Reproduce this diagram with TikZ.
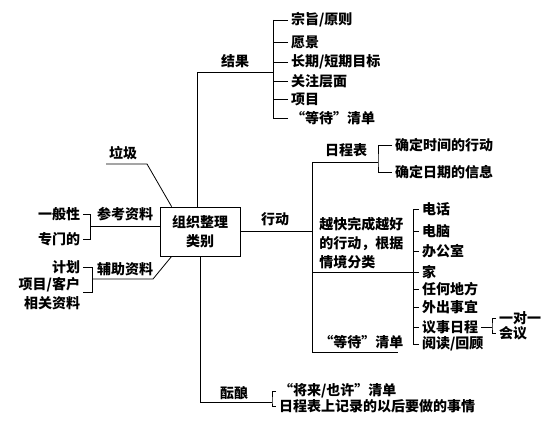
\documentclass[tikz,border=0pt]{standalone}
\usepackage{fontspec}
\setmainfont{Noto Sans CJK SC}
\usepackage{tikz}

\begin{document}
\begin{tikzpicture}[x=1pt,y=-1pt,line width=0.8pt,
  every node/.style={font=\fontsize{14}{19}\selectfont\bfseries},
  txt/.style={inner sep=1pt},
  item/.style={anchor=west,inner sep=1pt,outer sep=2pt},
  litem/.style={anchor=east,inner sep=1pt,outer sep=2pt}]
  \useasboundingbox (0,0) rectangle (556,433);

  \node[draw,align=center,minimum width=80pt,minimum height=49pt] (core) at (200,231.5) {组织整理\\类别};

  % 结果
  \node[txt] (jg) at (235,61) {结果};
  \coordinate (jgbar) at (273,72);
  \draw ([xshift=-3pt]core.north) |- (jgbar);
  \foreach \y/\lab [count=\i] in {20/{宗旨/原则},42/愿景,62/{长期/短期目标},81/关注层面,99/项目,118/“等待”清单}
    \node[item] (jg\i) at (288,\y) {\lab};
  \draw (jg1.west -| jgbar) -- (jg6.west -| jgbar);
  \foreach \i in {1,...,6}
    \draw (jg\i.west) -- (jg\i.west -| jgbar);

  % 垃圾
  \node[txt] (lj) at (123,153) {垃圾};
  \coordinate (ljend) at (106,164);
  \coordinate (ljknee) at (147,164);
  \draw (ljend) -- (ljknee) -- ([xshift=12pt]core.north west);

  % 参考资料
  \node[txt] (ck) at (125,214) {参考资料};
  \coordinate (ckbar) at (90,226);
  \draw (ckbar) -- (ckbar -| core.west);
  \node[litem] (ck1) at (83,214) {一般性};
  \node[litem] (ck2) at (83,239) {专门的};
  \draw (ck1.east) -| (ck2.east -| ckbar) -- (ck2.east);

  % 辅助资料
  \node[txt] (fz) at (125,269) {辅助资料};
  \coordinate (fzbar) at (92,279);
  \coordinate (fzknee) at (153,279);
  \draw (fzbar) -- (fzknee) -- ([xshift=12pt]core.south west);
  \node[litem] (fz1) at (83,267) {计划};
  \node[litem] (fz2) at (83,285) {项目/客户};
  \node[litem] (fz3) at (83,303) {相关资料};
  \coordinate (fzbot) at (83,292);
  \draw (fz1.east) -| (fzbot -| fzbar) -- (fzbot);

  % 行动
  \node[txt] (xd) at (275,219) {行动};
  \coordinate (xdtop) at (312,162);
  \coordinate (xdbot) at (312,352);
  \draw (core.east) -- (core.east -| xdtop);
  \draw (xdtop) -- (xdbot);

  \node[txt] (rcb) at (346,150) {日程表};
  \coordinate (rcbar) at (378,162);
  \draw (xdtop) -- (rcbar);
  \node[item] (rc1) at (392,145) {确定时间的行动};
  \node[item] (rc2) at (392,172) {确定日期的信息};
  \draw (rc1.west) -| (rcbar) |- (rc2.west);

  \node[txt,anchor=west,align=left] (yk) at (318,243) {越快完成越好\\的行动，根据\\情境分类};
  \foreach \y/\lab [count=\i] in {209/电话,231/电脑,251/办公室,272/家,289/任何地方,307/外出事宜,327/议事日程,344/{阅读/回顾}}
    \node[item] (qj\i) at (419,\y) {\lab};
  \coordinate (qjbar) at (413,272);
  \draw (qj1.west -| qjbar) -- (qj8.west -| qjbar);
  \foreach \i in {1,...,8}
    \draw (qj\i.west) -- (qj\i.west -| qjbar);
  \draw (xdtop |- qjbar) -- (qjbar);

  \node[txt,anchor=west] (dd) at (318,342) {“等待”清单};
  \coordinate (ddend) at (398,352);
  \draw (xdbot) -- (ddend);

  \coordinate (ysbar) at (492,327);
  \node[item] (ys1) at (496,318) {一对一};
  \node[item] (ys2) at (496,333) {会议};
  \draw (qj7.east) -- (qj7.east -| ysbar);
  \draw (ys1.west) -| (ysbar) |- (ys2.west);

  % 酝酿
  \node[txt] (yn) at (234,393) {酝酿};
  \coordinate (ynbar) at (272,402);
  \draw (core.south) |- (ynbar);
  \node[item] (yn1) at (276,391) {“将来/也许”清单};
  \node[item] (yn2) at (276,406) {日程表上记录的以后要做的事情};
  \draw (yn1.west) -| (ynbar) |- (yn2.west);
\end{tikzpicture}
\end{document}
